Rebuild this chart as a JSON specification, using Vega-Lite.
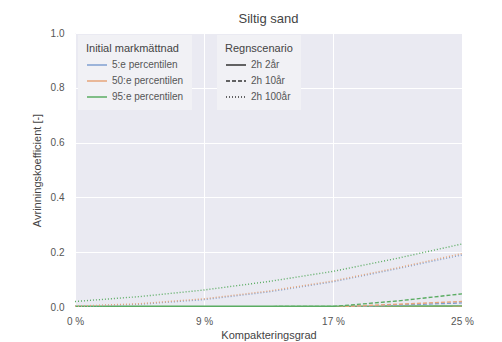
{
  "$schema": "https://vega.github.io/schema/vega-lite/v6.json",
  "autosize": {"type": "none"},
  "width": 387,
  "height": 274,
  "padding": {"left": 75, "top": 33, "right": 40, "bottom": 35},
  "background": "white",
  "title": {
    "text": "Siltig sand",
    "font": "Liberation Sans",
    "fontSize": 13,
    "fontWeight": "normal",
    "color": "#444444",
    "offset": 2
  },
  "data": {
    "values": [
      {"steg": 0, "mark": "5:e percentilen", "regn": "2h 2år", "c": 0.0},
      {"steg": 1, "mark": "5:e percentilen", "regn": "2h 2år", "c": 0.0},
      {"steg": 2, "mark": "5:e percentilen", "regn": "2h 2år", "c": 0.0},
      {"steg": 3, "mark": "5:e percentilen", "regn": "2h 2år", "c": 0.001},
      {"steg": 0, "mark": "50:e percentilen", "regn": "2h 2år", "c": 0.0},
      {"steg": 1, "mark": "50:e percentilen", "regn": "2h 2år", "c": 0.0},
      {"steg": 2, "mark": "50:e percentilen", "regn": "2h 2år", "c": 0.0},
      {"steg": 3, "mark": "50:e percentilen", "regn": "2h 2år", "c": 0.002},
      {"steg": 0, "mark": "95:e percentilen", "regn": "2h 2år", "c": 0.003},
      {"steg": 1, "mark": "95:e percentilen", "regn": "2h 2år", "c": 0.003},
      {"steg": 2, "mark": "95:e percentilen", "regn": "2h 2år", "c": 0.003},
      {"steg": 3, "mark": "95:e percentilen", "regn": "2h 2år", "c": 0.004},

      {"steg": 0, "mark": "5:e percentilen", "regn": "2h 10år", "c": 0.0},
      {"steg": 1, "mark": "5:e percentilen", "regn": "2h 10år", "c": 0.0},
      {"steg": 2, "mark": "5:e percentilen", "regn": "2h 10år", "c": 0.0},
      {"steg": 2.5, "mark": "5:e percentilen", "regn": "2h 10år", "c": 0.007},
      {"steg": 3, "mark": "5:e percentilen", "regn": "2h 10år", "c": 0.015},
      {"steg": 0, "mark": "50:e percentilen", "regn": "2h 10år", "c": 0.0},
      {"steg": 1, "mark": "50:e percentilen", "regn": "2h 10år", "c": 0.0},
      {"steg": 2, "mark": "50:e percentilen", "regn": "2h 10år", "c": 0.0},
      {"steg": 2.5, "mark": "50:e percentilen", "regn": "2h 10år", "c": 0.01},
      {"steg": 3, "mark": "50:e percentilen", "regn": "2h 10år", "c": 0.02},
      {"steg": 0, "mark": "95:e percentilen", "regn": "2h 10år", "c": 0.001},
      {"steg": 1, "mark": "95:e percentilen", "regn": "2h 10år", "c": 0.001},
      {"steg": 2, "mark": "95:e percentilen", "regn": "2h 10år", "c": 0.002},
      {"steg": 2.5, "mark": "95:e percentilen", "regn": "2h 10år", "c": 0.022},
      {"steg": 3, "mark": "95:e percentilen", "regn": "2h 10år", "c": 0.048},

      {"steg": 0, "mark": "5:e percentilen", "regn": "2h 100år", "c": 0.002},
      {"steg": 0.5, "mark": "5:e percentilen", "regn": "2h 100år", "c": 0.01},
      {"steg": 1, "mark": "5:e percentilen", "regn": "2h 100år", "c": 0.027},
      {"steg": 1.5, "mark": "5:e percentilen", "regn": "2h 100år", "c": 0.055},
      {"steg": 2, "mark": "5:e percentilen", "regn": "2h 100år", "c": 0.092},
      {"steg": 2.5, "mark": "5:e percentilen", "regn": "2h 100år", "c": 0.14},
      {"steg": 3, "mark": "5:e percentilen", "regn": "2h 100år", "c": 0.19},
      {"steg": 0, "mark": "50:e percentilen", "regn": "2h 100år", "c": 0.003},
      {"steg": 0.5, "mark": "50:e percentilen", "regn": "2h 100år", "c": 0.012},
      {"steg": 1, "mark": "50:e percentilen", "regn": "2h 100år", "c": 0.03},
      {"steg": 1.5, "mark": "50:e percentilen", "regn": "2h 100år", "c": 0.058},
      {"steg": 2, "mark": "50:e percentilen", "regn": "2h 100år", "c": 0.095},
      {"steg": 2.5, "mark": "50:e percentilen", "regn": "2h 100år", "c": 0.143},
      {"steg": 3, "mark": "50:e percentilen", "regn": "2h 100år", "c": 0.195},
      {"steg": 0, "mark": "95:e percentilen", "regn": "2h 100år", "c": 0.02},
      {"steg": 0.5, "mark": "95:e percentilen", "regn": "2h 100år", "c": 0.038},
      {"steg": 1, "mark": "95:e percentilen", "regn": "2h 100år", "c": 0.062},
      {"steg": 1.5, "mark": "95:e percentilen", "regn": "2h 100år", "c": 0.093},
      {"steg": 2, "mark": "95:e percentilen", "regn": "2h 100år", "c": 0.13},
      {"steg": 2.5, "mark": "95:e percentilen", "regn": "2h 100år", "c": 0.178},
      {"steg": 3, "mark": "95:e percentilen", "regn": "2h 100år", "c": 0.23}
    ]
  },
  "mark": {"type": "line", "strokeWidth": 1.4, "clip": true},
  "encoding": {
    "x": {
      "field": "steg",
      "type": "quantitative",
      "scale": {"domain": [0, 3], "nice": false, "zero": false},
      "axis": {
        "title": "Kompakteringsgrad",
        "values": [0, 1, 2, 3],
        "labelExpr": "datum.value == 0 ? '0 %' : datum.value == 1 ? '9 %' : datum.value == 2 ? '17 %' : '25 %'",
        "labelFlush": false,
        "labelPadding": 9,
        "titlePadding": 3
      }
    },
    "y": {
      "field": "c",
      "type": "quantitative",
      "scale": {"domain": [0, 1], "nice": false},
      "axis": {
        "title": "Avrinningskoefficient [-]",
        "values": [0, 0.2, 0.4, 0.6, 0.8, 1.0],
        "format": ".1f",
        "labelFlush": false,
        "labelPadding": 11,
        "titlePadding": 8
      }
    },
    "color": {
      "field": "mark",
      "type": "nominal",
      "sort": ["5:e percentilen", "50:e percentilen", "95:e percentilen"],
      "scale": {
        "domain": ["5:e percentilen", "50:e percentilen", "95:e percentilen"],
        "range": ["#7f9fd0", "#e6a57a", "#5aac62"]
      },
      "legend": {
        "title": "Initial markmättnad",
        "orient": "none",
        "legendX": 3,
        "legendY": 2,
        "symbolType": "stroke",
        "symbolSize": 400,
        "symbolStrokeWidth": 1.5,
        "padding": 8,
        "fillColor": "#f1f1f5",
        "labelLimit": 200,
        "rowPadding": -6,
        "titlePadding": 0,
        "offset": 0
      }
    },
    "strokeDash": {
      "field": "regn",
      "type": "nominal",
      "sort": ["2h 2år", "2h 10år", "2h 100år"],
      "scale": {
        "domain": ["2h 2år", "2h 10år", "2h 100år"],
        "range": [[1, 0], [4, 2], [1, 2]]
      },
      "legend": {
        "title": "Regnscenario",
        "orient": "none",
        "legendX": 142,
        "legendY": 2,
        "symbolType": "stroke",
        "symbolSize": 400,
        "symbolStrokeColor": "#333333",
        "symbolStrokeWidth": 1.5,
        "padding": 8,
        "fillColor": "#f1f1f5",
        "rowPadding": -6,
        "titlePadding": 0
      }
    },
    "order": {"field": "mark"}
  },
  "config": {
    "font": "Liberation Sans",
    "view": {"fill": "#eaeaf2", "stroke": null},
    "axis": {
      "domain": false,
      "ticks": false,
      "grid": true,
      "gridColor": "#ffffff",
      "gridWidth": 1,
      "labelFont": "Liberation Sans",
      "labelFontSize": 10,
      "labelColor": "#555555",
      "titleFont": "Liberation Sans",
      "titleFontSize": 11,
      "titleFontWeight": "normal",
      "titleColor": "#444444"
    },
    "legend": {
      "labelFont": "Liberation Sans",
      "labelFontSize": 10,
      "labelColor": "#555555",
      "titleFont": "Liberation Sans",
      "titleFontSize": 11,
      "titleFontWeight": "normal",
      "titleColor": "#444444"
    }
  }
}
